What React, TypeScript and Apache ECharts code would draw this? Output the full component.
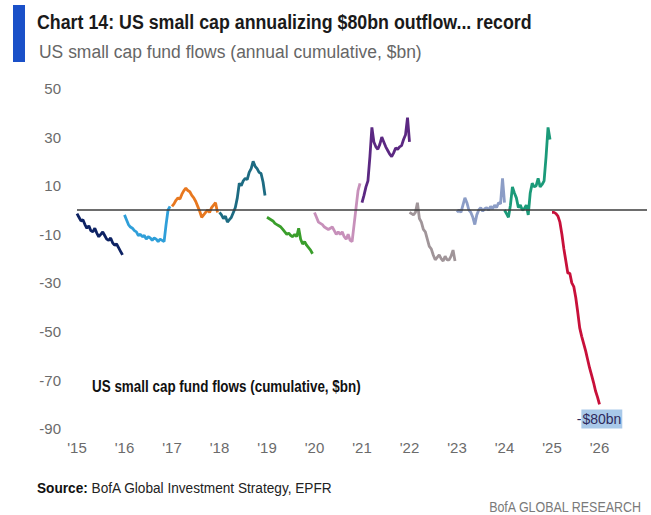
import React, { useEffect, useRef } from "react";
import * as echarts from "echarts";

const TITLE = "Chart 14: US small cap annualizing $80bn outflow... record";
const SUBTITLE = "US small cap fund flows (annual cumulative, $bn)";
const NOTE = "US small cap fund flows (cumulative, $bn)";
const SOURCE_LABEL = "Source:";
const SOURCE_TEXT = " BofA Global Investment Strategy, EPFR";
const BRAND = "BofA GLOBAL RESEARCH";
const END_LABEL = "$80bn";

const X_TICKS = ["'15", "'16", "'17", "'18", "'19", "'20", "'21", "'22", "'23", "'24", "'25", "'26"];
const Y_TICKS = [50, 30, 10, -10, -30, -50, -70, -90];

// Annual cumulative flows ($bn), semi-monthly readings within each year
const flows2015 = [-1.5, -3, -4.5, -4, -6, -7.5, -6.5, -8.5, -9, -7.5, -9.5, -11, -10, -9, -10.5, -12, -12.5, -11.5, -13.5, -14.5, -14, -15.5, -17, -18.5];
const flows2016 = [-2, -4, -6, -7, -7.5, -8.5, -9, -10.5, -10, -11, -10.5, -12, -11, -11.5, -12.5, -11.5, -12, -13, -12, -12.5, -13, -6, 0, 1.5];
const flows2017 = [1.5, 2.5, 4, 5, 4.5, 6.5, 8, 9, 8, 7.5, 6, 5, 3.5, 1.5, -0.5, -3, -2, -1, 0, -1, 1, 2, 3, -1];
const flows2018 = [-1, -2, -3.5, -2.5, -5, -4, -3, -1, 1, 5, 11, 10, 12, 13, 12.5, 15.5, 17, 20, 18, 17, 15.5, 15, 11.5, 6];
const flows2019 = [-3, -3.5, -4, -4.5, -5.5, -6, -6.5, -7, -8, -9, -10, -9.5, -10.5, -11, -10, -11, -7.5, -12, -14, -13, -14.5, -15.5, -16.5, -18];
const flows2020 = [-1, -3, -5, -5.5, -6, -7, -7.5, -8, -7.5, -7, -8.5, -10, -9, -10, -9, -11, -12, -10, -12.5, -13, -6, 1, 8, 11];
const flows2021 = [3, 6, 9.5, 12, 22, 34, 28, 26, 25, 27, 30, 28, 26, 24.5, 23, 22, 23.5, 25.5, 25, 26, 26.5, 29, 31, 38, 28];
const flows2022 = [-1, -1.5, -2, -1, 3, -3.5, -5, -8, -9, -12, -15, -16, -18.5, -20.5, -19.5, -18.5, -20, -21, -19, -20.5, -20.5, -19, -16.5, -21];
const flows2023 = [-1, 0, -1, 2, 5, 3, 0, -1, -3, -6, -2, 0, 1, -0.5, 0.5, 1, 0, 1.5, 0.5, 2, 1, 3, 2.5, 13, 3];
const flows2024 = [0, -1.5, -3, 2, 9.5, 7, 5, 1, 2, 0, 0.5, 2, -2, 7, 11, 9.5, 10, 13, 9.5, 10.5, 12, 22, 34, 29];
const flows2025 = [-1, -1, -1.5, -2.5, -5, -10, -16, -21, -26, -26, -30, -31.5, -36, -42, -48.5, -52, -55, -58, -61.5, -65, -68, -71, -74.5, -77, -80];

const YEAR_SERIES = [
  { year: 2015, values: flows2015, color: "#0d2263" },
  { year: 2016, values: flows2016, color: "#2f9fd9" },
  { year: 2017, values: flows2017, color: "#e8781f" },
  { year: 2018, values: flows2018, color: "#1d6b82" },
  { year: 2019, values: flows2019, color: "#3a9e2b" },
  { year: 2020, values: flows2020, color: "#c790ba" },
  { year: 2021, values: flows2021, color: "#5b2882" },
  { year: 2022, values: flows2022, color: "#a09599" },
  { year: 2023, values: flows2023, color: "#8c9dc6" },
  { year: 2024, values: flows2024, color: "#1b9a79" },
  { year: 2025, values: flows2025, color: "#c8103a" },
];

const FONT = "'Liberation Sans', Arial, sans-serif";

export default function App() {
  const ref = useRef<HTMLDivElement>(null);

  useEffect(() => {
    if (!ref.current) return;
    const chart = echarts.init(ref.current, undefined, { renderer: "svg" });

    const series: any[] = YEAR_SERIES.map((s, idx) => {
      const data: any[] = s.values.map((v, i) => [s.year + i / 24, v]);
      const item: any = {
        type: "line",
        name: String(s.year),
        data,
        showSymbol: false,
        symbol: "none",
        z: idx === 0 ? 1 : 2,
        lineStyle: { color: s.color, width: 2.8 },
        itemStyle: { color: s.color },
      };
      if (idx === 0) {
        item.markLine = {
          silent: true,
          symbol: ["none", "none"],
          label: { show: false },
          lineStyle: { color: "#3c3c3c", width: 1.5, type: "solid" },
          data: [{ yAxis: 0 }],
        };
      }
      if (idx === YEAR_SERIES.length - 1) {
        item.markPoint = {
          silent: true,
          symbol: "circle",
          symbolSize: 0,
          data: [
            {
              coord: data[data.length - 1],
              label: {
                show: true,
                position: "bottom",
                distance: 5,
                formatter: "{a|-}{b|" + END_LABEL + "}",
                rich: {
                  a: { color: "#2e2a5c", fontSize: 14, fontFamily: FONT },
                  b: {
                    color: "#2e2a5c",
                    fontSize: 14,
                    fontFamily: FONT,
                    backgroundColor: "#a9c9e9",
                    padding: [3, 1, 2, 1],
                  },
                },
              },
            },
          ],
        };
      }
      return item;
    });

    chart.setOption({
      animation: false,
      backgroundColor: "#ffffff",
      grid: { left: 77, right: 4, top: 88.5, bottom: 86.3, containLabel: false },
      xAxis: {
        type: "value",
        min: 2015,
        max: 2027,
        interval: 1,
        axisLine: { show: false },
        axisTick: { show: false },
        splitLine: { show: false },
        axisLabel: {
          margin: 11,
          color: "#6b6b6b",
          fontSize: 15,
          fontFamily: FONT,
          formatter: (v: number) => X_TICKS[Math.round(v - 2015)] ?? "",
        },
      },
      yAxis: {
        type: "value",
        min: -90,
        max: 50,
        interval: 10,
        axisLine: { show: false },
        axisTick: { show: false },
        splitLine: { show: false },
        axisLabel: {
          margin: 16,
          color: "#6b6b6b",
          fontSize: 15,
          fontFamily: FONT,
          formatter: (v: number) => (Y_TICKS.includes(Math.round(v)) ? String(Math.round(v)) : ""),
        },
      },
      graphic: [
        { type: "rect", shape: { x: 13, y: 5, width: 12, height: 57 }, style: { fill: "#1a50c8" } },
        {
          type: "text",
          x: 37,
          y: 22,
          scaleX: 0.89,
          style: { text: TITLE, fill: "#1a1a1a", font: "bold 20px " + FONT, verticalAlign: "middle" },
        },
        {
          type: "text",
          x: 39,
          y: 51,
          scaleX: 0.92,
          style: { text: SUBTITLE, fill: "#666666", font: "19px " + FONT, verticalAlign: "middle" },
        },
        {
          type: "text",
          x: 92,
          y: 387,
          scaleX: 0.84,
          style: { text: NOTE, fill: "#111111", font: "bold 16px " + FONT, verticalAlign: "middle" },
        },
        {
          type: "text",
          x: 37,
          y: 488,
          scaleX: 0.91,
          style: {
            text: "{s|" + SOURCE_LABEL + "}{t|" + SOURCE_TEXT + "}",
            verticalAlign: "middle",
            rich: {
              s: { font: "bold 15px " + FONT, fill: "#111111" },
              t: { font: "15px " + FONT, fill: "#222222" },
            },
          },
        },
        {
          type: "text",
          x: 641,
          y: 507,
          scaleX: 0.89,
          style: { text: BRAND, fill: "#7a7a7a", font: "14px " + FONT, align: "right", verticalAlign: "middle" },
        },
      ],
      series,
    });

    return () => chart.dispose();
  }, []);

  return (
    <div
      ref={ref}
      style={{ position: "fixed", left: 0, top: 0, width: 651, height: 515, background: "#fff" }}
    />
  );
}
